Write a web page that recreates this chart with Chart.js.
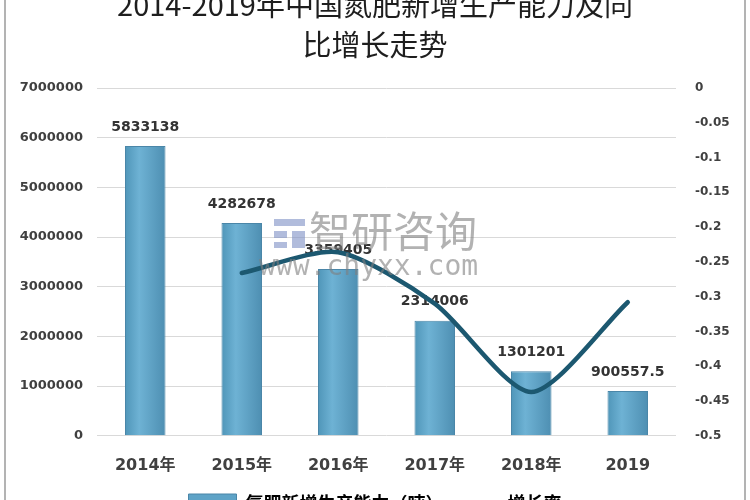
<!DOCTYPE html>
<html>
<head>
<meta charset="utf-8">
<script src="https://cdn.jsdelivr.net/npm/chart.js@4/dist/chart.umd.min.js"></script>
<style>
  html, body { margin:0; padding:0; background:#fff; width:750px; height:500px; overflow:hidden; }
  #wrap { position:relative; width:750px; height:500px; overflow:hidden; }
  #box { position:absolute; left:0; top:-16px; width:750px; height:538px; }
  #frame { position:absolute; left:4px; top:-6px; width:738px; height:520px; border:2px solid #b3b3b3; pointer-events:none; }
</style>
</head>
<body>
<div id="wrap">
  <div id="box"><canvas id="chart" width="750" height="538"></canvas></div>
  <div id="frame"></div>
</div>
<script>
// values
const years    = ['2014年', '2015年', '2016年', '2017年', '2018年', '2019'];
const capacity = [5833138, 4282678, 3359405, 2314006, 1301201, 900557.5];
const growth   = [null, -0.266, -0.236, -0.31, -0.437, -0.308];
const capMax = 7000000, capStep = 1000000;
const rateMin = -0.5, rateMax = 0, rateStep = 0.05;

const titleLines = ['2014-2019年中国氮肥新增生产能力及同', '比增长走势'];
const capName  = '氮肥新增生产能力（吨）';
const rateName = '增长率';

const numFont = '"DejaVu Sans", Verdana, sans-serif';
const cjkFont = '"DejaVu Sans", "Noto Sans CJK SC", sans-serif';

// bar colour: a soft horizontal gradient like the original
function barFill(ctx) {
  const c = ctx.chart;
  if (!c.chartArea) return '#5ea3c7';
  const x = c.scales.x.getPixelForValue(ctx.dataIndex);
  const g = c.ctx.createLinearGradient(x - 20, 0, x + 20, 0);
  g.addColorStop(0, '#5096b9');
  g.addColorStop(0.35, '#6eb2d4');
  g.addColorStop(1, '#4e8fb2');
  return g;
}

// value labels above the bars (drawn before the line so it passes over them)
const barLabels = {
  id: 'barLabels',
  afterDatasetDraw(chart, args) {
    if (args.index !== 0) return;
    const ctx = chart.ctx;
    const meta = chart.getDatasetMeta(0);
    ctx.save();
    ctx.font = 'bold 14px ' + numFont;
    ctx.fillStyle = '#333';
    ctx.textAlign = 'center';
    ctx.textBaseline = 'middle';
    meta.data.forEach((bar, i) => {
      ctx.fillText(String(capacity[i]), bar.x, bar.y - 19);
    });
    ctx.restore();
  }
};

// the watermark of the source site
const watermark = {
  id: 'watermark',
  afterDraw(chart) {
    const ctx = chart.ctx;
    ctx.save();
    ctx.globalAlpha = 0.6;
    ctx.fillStyle = '#7f7f7f';
    ctx.textBaseline = 'middle';
    ctx.font = '42px "Noto Sans CJK SC", sans-serif';
    ctx.fillText('智研咨询', 309, 247);
    ctx.font = '28px "DejaVu Sans Mono", monospace';
    ctx.fillText('www.chyxx.com', 259, 284);
    ctx.fillStyle = '#7d8fc4';
    ctx.fillRect(274, 235, 31, 7);
    ctx.fillRect(274, 247, 13, 7);
    ctx.fillRect(292, 247, 13, 17);
    ctx.fillRect(274, 258, 13, 6);
    ctx.restore();
  }
};

new Chart(document.getElementById('chart'), {
  data: {
    labels: years,
    datasets: [
      {
        type: 'bar',
        label: capName,
        data: capacity,
        yAxisID: 'yCap',
        backgroundColor: barFill,
        borderColor: '#4a86a8',
        borderWidth: 1,
        categoryPercentage: 1,
        barPercentage: 0.42,
        order: 2
      },
      {
        type: 'line',
        label: rateName,
        data: growth,
        yAxisID: 'yRate',
        borderColor: '#1c5870',
        backgroundColor: '#1c5870',
        borderWidth: 4.5,
        pointRadius: 0,
        tension: 0.25,
        borderCapStyle: 'round',
        order: 1
      }
    ]
  },
  options: {
    responsive: false,
    animation: false,
    layout: { padding: { left: 10, right: 10, top: 0, bottom: 0 } },
    plugins: {
      title: {
        display: true,
        text: titleLines,
        color: '#1e1e1e',
        font: { family: '"Noto Sans CJK SC", sans-serif', size: 29, weight: 'normal', lineHeight: 1.38 },
        padding: { top: 1, bottom: 23 }
      },
      legend: {
        position: 'bottom',
        labels: {
          color: '#333',
          font: { family: '"Noto Sans CJK SC", sans-serif', size: 18, weight: 'bold' },
          padding: 7,
          usePointStyle: true,
          pointStyleWidth: 48,
          generateLabels(chart) {
            return [
              { text: capName, fillStyle: '#5ea3c7', strokeStyle: '#4a86a8', lineWidth: 1, pointStyle: 'rect', datasetIndex: 0 },
              { text: rateName, fillStyle: '#1c5870', strokeStyle: '#1c5870', lineWidth: 4, pointStyle: 'line', datasetIndex: 1 }
            ];
          }
        }
      },
      tooltip: { enabled: false }
    },
    scales: {
      x: {
        grid: { display: false },
        border: { display: false },
        ticks: {
          color: '#404040',
          padding: 12,
          font: { family: cjkFont, size: 16, weight: 'bold' }
        }
      },
      yCap: {
        position: 'left',
        min: 0,
        max: capMax,
        afterFit(s) { s.width = 87; },
        grid: { color: '#d9d9d9', lineWidth: 1, drawTicks: false },
        border: { display: false },
        ticks: {
          stepSize: capStep,
          padding: 14,
          color: '#404040',
          font: { family: numFont, size: 13, weight: 'bold' },
          callback: v => String(v)
        }
      },
      yRate: {
        position: 'right',
        min: rateMin,
        max: rateMax,
        afterFit(s) { s.width = 64; },
        grid: { display: false, drawTicks: false },
        border: { display: false },
        ticks: {
          stepSize: rateStep,
          padding: 19,
          color: '#404040',
          font: { family: numFont, size: 12, weight: 'bold' },
          callback: v => String(+v.toFixed(2))
        }
      }
    }
  },
  plugins: [barLabels, watermark]
});
</script>
</body>
</html>
